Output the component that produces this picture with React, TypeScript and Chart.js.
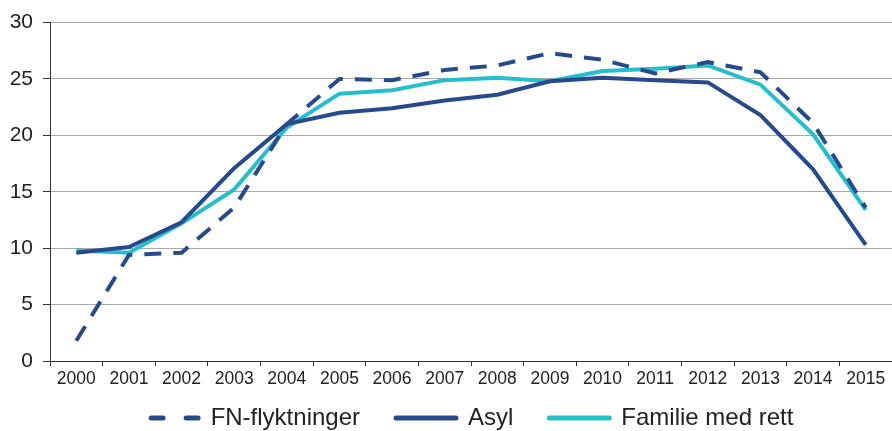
import React, { useEffect, useRef } from "react";
import { Chart, registerables } from "chart.js";

Chart.register(...registerables);

const years = ["2000","2001","2002","2003","2004","2005","2006","2007","2008","2009","2010","2011","2012","2013","2014","2015"];
const fnFlyktninger = [1.8, 9.4, 9.6, 13.6, 21.0, 25.0, 24.9, 25.8, 26.2, 27.3, 26.7, 25.5, 26.5, 25.6, 21.1, 13.6];
const asyl = [9.6, 10.1, 12.3, 17.1, 21.0, 22.0, 22.4, 23.1, 23.6, 24.8, 25.1, 24.9, 24.7, 21.8, 17.0, 10.3];
const familieMedRett = [9.8, 9.6, 12.2, 15.2, 20.7, 23.7, 24.0, 24.9, 25.1, 24.8, 25.7, 25.9, 26.2, 24.5, 20.1, 13.4];
const yTicks = [0, 5, 10, 15, 20, 25, 30];

const NAVY = "#274a8e";
const CYAN = "#24bfcc";
const FONT = "'Liberation Sans', Arial, Helvetica, sans-serif";

const legendShift = {
  id: "legendShift",
  afterLayout(chart: any) {
    const lg = chart.legend;
    if (lg) {
      lg.left += 20;
      lg.right += 20;
      lg.top -= 31;
      lg.bottom -= 31;
    }
  },
};

export default function App() {
  const ref = useRef<HTMLCanvasElement | null>(null);
  useEffect(() => {
    if (!ref.current) return;
    const chart = new Chart(ref.current, {
      type: "line",
      data: {
        labels: years,
        datasets: [
          { label: "FN-flyktninger", data: fnFlyktninger, borderColor: NAVY, backgroundColor: NAVY, borderWidth: 4, borderDash: [17, 12], pointRadius: 0, tension: 0 },
          { label: "Asyl", data: asyl, borderColor: NAVY, backgroundColor: NAVY, borderWidth: 4, pointRadius: 0, tension: 0 },
          { label: "Familie med rett", data: familieMedRett, borderColor: CYAN, backgroundColor: CYAN, borderWidth: 4, pointRadius: 0, tension: 0 },
        ],
      },
      plugins: [legendShift],
      options: {
        animation: false,
        responsive: true,
        maintainAspectRatio: false,
        layout: { padding: { left: 0, right: 0, top: 2, bottom: -40 } },
        plugins: {
          tooltip: { enabled: false },
          legend: {
            position: "bottom",
            labels: {
              usePointStyle: true,
              pointStyle: "line",
              pointStyleWidth: 60,
              boxHeight: 24,
              padding: 36,
              color: "#222",
              font: { family: FONT, size: 24 },
              generateLabels: (c: any) => {
                const items = Chart.defaults.plugins.legend.labels.generateLabels(c);
                items.forEach((it: any, i: number) => {
                  it.pointStyle = "line";
                  it.lineWidth = 5;
                  it.lineCap = "round";
                  it.lineDash = i === 0 ? [12, 23] : [];
                  it.lineDashOffset = i === 0 ? 22.5 : 0;
                });
                return items;
              },
            },
          },
        },
        scales: {
          x: {
            offset: true,
            grid: { offset: true, drawOnChartArea: false, tickLength: 5, tickColor: "#333", lineWidth: 1 },
            border: { color: "#333", width: 1 },
            ticks: { color: "#222", font: { family: FONT, size: 17.5 }, padding: 3, maxRotation: 0, autoSkip: false },
            afterFit: (s: any) => { s.height = 40; },
          },
          y: {
            min: 0,
            max: 30,
            afterBuildTicks: (s: any) => { s.ticks = yTicks.map((v) => ({ value: v })); },
            grid: { color: "#a8a8a8", tickColor: "#333", tickLength: 7, lineWidth: 1 },
            border: { color: "#333", width: 1 },
            ticks: { color: "#222", font: { family: FONT, size: 21 }, padding: 10 },
            afterFit: (s: any) => { s.width = 50; },
          },
        },
      },
    });
    return () => chart.destroy();
  }, []);
  return (
    <div style={{ position: "fixed", left: 0, top: 0, width: 892, height: 431 }}>
      <canvas ref={ref} />
    </div>
  );
}
